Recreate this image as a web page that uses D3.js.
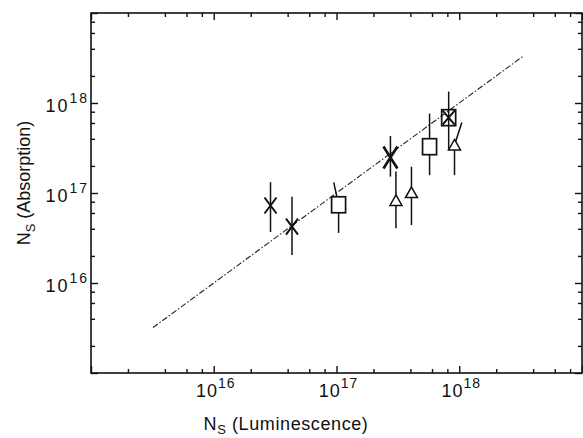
<!DOCTYPE html>
<html>
<head>
<meta charset="utf-8">
<script src="https://cdn.jsdelivr.net/npm/d3@7"></script>
<style>
  body { margin: 0; background: #fff; }
  svg { display: block; font-family: "Liberation Sans", Arial, sans-serif; }
</style>
</head>
<body>
<div id="chart"></div>
<script>
// values (cm^-3)
var lum     = [2.9e16, 4.34e16, 1.04e17, 2.75e17, 3.05e17, 4.08e17, 5.73e17, 8.2e17, 9.15e17];
var absorb  = [7.26e16, 4.23e16, 7.4e16, 2.48e17, 8.26e16, 1.01e17, 3.27e17, 6.87e17, 3.42e17];
var absLo   = [3.69e16, 2.05e16, 3.6e16, 1.52e17, 4.06e16, 4.41e16, 1.58e17, 3.0e17, 1.58e17];
var absHi   = [1.32e17, 9.1e16, 1.31e17, 4.3e17, 1.73e17, 1.96e17, 7.64e17, 1.34e18, 6.07e17];
var lumHi   = [null, null, 9.5e16, null, null, null, null, null, 1.05e18]; // upper bar drawn slanted
var symbols = ["cross", "cross", "square", "bigcross", "triangle", "triangle", "square", "boxcross", "triangle"];
var fitEnds = [3.2e15, 3.35e18];   // N(abs) = N(lum)

var labelDecades = [16, 17, 18];
var minorSteps = [2, 4, 6, 8];

function init() {
    var w = 583, h = 438;
    var left = 91, right = 582, top = 13, bottom = 373;

    var x = d3.scaleLog().domain([1e15, 1e19]).range([left, right]);
    var y = d3.scaleLog().domain([1e15, 1e19]).range([bottom, top]);

    var svg = d3.select("#chart")
                .append("svg")
                .attr("width", w)
                .attr("height", h);

    // tick positions: decades and 2,4,6,8 in between
    var majors = d3.range(15, 20).map(function(p) { return Math.pow(10, p); });
    var minors = [];
    majors.slice(0, 4).forEach(function(m) {
        minorSteps.forEach(function(s) { minors.push(m * s); });
    });

    function ticks(axisFn, scale, vals, size, tr) {
        var g = svg.append("g")
           .attr("transform", tr)
           .call(axisFn(scale).tickValues(vals).tickSize(size).tickFormat(""));
        g.select(".domain").remove();
        g.selectAll("line").attr("stroke", "#111").attr("stroke-width", 1.4);
    }

    // inward ticks on all four sides
    ticks(d3.axisTop, x, majors, 7, "translate(0," + bottom + ")");
    ticks(d3.axisTop, x, minors, 4, "translate(0," + bottom + ")");
    ticks(d3.axisBottom, x, majors, 7, "translate(0," + top + ")");
    ticks(d3.axisBottom, x, minors, 4, "translate(0," + top + ")");
    ticks(d3.axisRight, y, majors, 7, "translate(" + left + ",0)");
    ticks(d3.axisRight, y, minors, 4, "translate(" + left + ",0)");
    ticks(d3.axisLeft, y, majors, 7, "translate(" + right + ",0)");
    ticks(d3.axisLeft, y, minors, 4, "translate(" + right + ",0)");

    // frame
    svg.append("rect")
       .attr("x", left).attr("y", top)
       .attr("width", right - left).attr("height", bottom - top)
       .attr("fill", "none")
       .attr("stroke", "#111")
       .attr("stroke-width", 1.6);

    // tick labels, 10^n
    var xl = svg.selectAll(".xlab")
       .data(labelDecades)
       .enter()
       .append("text")
       .attr("class", "xlab")
       .attr("x", function(d) { return x(Math.pow(10, d)) + 2; })
       .attr("y", 397)
       .attr("text-anchor", "middle")
       .attr("fill", "#111")
       .style("letter-spacing", "1px");
    xl.append("tspan").attr("font-size", 18).text("10");
    xl.append("tspan").attr("font-size", 14).attr("dy", -9)
      .text(function(d) { return d; });

    var yl = svg.selectAll(".ylab")
       .data(labelDecades)
       .enter()
       .append("text")
       .attr("class", "ylab")
       .attr("x", 89)
       .attr("y", function(d) { return y(Math.pow(10, d)) + 9; })
       .attr("text-anchor", "end")
       .attr("fill", "#111")
       .style("letter-spacing", "2px");
    yl.append("tspan").attr("font-size", 18).text("10");
    yl.append("tspan").attr("font-size", 14).attr("dy", -9)
      .text(function(d) { return d; });

    // axis titles
    var xt = svg.append("text")
       .attr("x", 286).attr("y", 430)
       .attr("text-anchor", "middle")
       .attr("font-size", 18)
       .attr("fill", "#111")
       .style("letter-spacing", "0.6px");
    xt.append("tspan").text("N");
    xt.append("tspan").attr("font-size", 13).attr("dy", 4).text("S");
    xt.append("tspan").attr("dy", -4).text(" (Luminescence)");

    var yt = svg.append("text")
       .attr("transform", "translate(30,183) rotate(-90)")
       .attr("text-anchor", "middle")
       .attr("font-size", 18)
       .attr("fill", "#111");
    yt.append("tspan").text("N");
    yt.append("tspan").attr("font-size", 13).attr("dy", 5).text("S");
    yt.append("tspan").attr("dy", -5).text(" (Absorption)");

    // fitted line, dash-dot
    svg.append("line")
       .attr("x1", x(fitEnds[0])).attr("y1", y(fitEnds[0]))
       .attr("x2", x(fitEnds[1])).attr("y2", y(fitEnds[1]))
       .attr("stroke", "#222")
       .attr("stroke-width", 1.1)
       .attr("stroke-dasharray", "6,2,1.5,2");

    var idx = d3.range(lum.length);

    // error bars (upper part may lean)
    svg.selectAll(".ebar-up")
       .data(idx)
       .enter()
       .append("line")
       .attr("x1", function(i) { return x(lum[i]); })
       .attr("y1", function(i) { return y(absorb[i]); })
       .attr("x2", function(i) { return x(lumHi[i] || lum[i]); })
       .attr("y2", function(i) { return y(absHi[i]); })
       .attr("stroke", "#111")
       .attr("stroke-width", 1.5);
    svg.selectAll(".ebar-lo")
       .data(idx)
       .enter()
       .append("line")
       .attr("x1", function(i) { return x(lum[i]); })
       .attr("y1", function(i) { return y(absorb[i]); })
       .attr("x2", function(i) { return x(lum[i]); })
       .attr("y2", function(i) { return y(absLo[i]); })
       .attr("stroke", "#111")
       .attr("stroke-width", 1.5);

    // markers
    idx.forEach(function(i) {
        var px = x(lum[i]), py = y(absorb[i]);
        var g = svg.append("g").attr("transform", "translate(" + px + "," + py + ")")
                   .attr("stroke", "#111").attr("fill", "#fff");
        var s = symbols[i];
        if (s === "square" || s === "boxcross") {
            g.append("rect")
             .attr("x", -7).attr("y", -8).attr("width", 14).attr("height", 16)
             .attr("stroke-width", 1.7)
             .attr("fill", s === "square" ? "#fff" : "none");
        }
        if (s === "triangle") {
            g.append("path")
             .attr("d", "M0,-5.5L6,5L-6,5Z")
             .attr("stroke-width", 1.5);
        }
        if (s === "cross" || s === "bigcross" || s === "boxcross") {
            var hw = s === "bigcross" ? 7 : 6;
            var hh = s === "bigcross" ? 11 : (s === "boxcross" ? 7 : 8);
            var sw = s === "bigcross" ? 2.6 : 2;
            g.append("path")
             .attr("d", "M" + (-hw) + "," + (-hh) + "L" + hw + "," + hh +
                        "M" + hw + "," + (-hh) + "L" + (-hw) + "," + hh)
             .attr("fill", "none")
             .attr("stroke-width", sw);
        }
    });
}

window.onload = init;
</script>
</body>
</html>
